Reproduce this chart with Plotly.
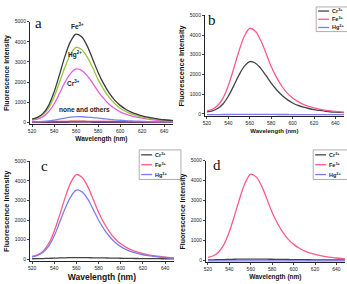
import plotly.graph_objects as go

W, H = 347, 284

wavelength = [520, 525, 530, 535, 540, 545, 550, 555, 560, 565, 570, 575, 580, 585,
              590, 595, 600, 605, 610, 615, 620, 625, 630, 635, 640, 645, 650]

# panel a
a_fe = [160, 240, 440, 830, 1500, 2380, 3300, 4020, 4380, 4250, 3800, 3150, 2480, 1920,
        1460, 1100, 840, 650, 505, 400, 315, 250, 200, 160, 125, 100, 80]
a_hg = [150, 220, 380, 700, 1260, 2000, 2760, 3380, 3720, 3620, 3250, 2720, 2120, 1640,
        1240, 930, 700, 540, 420, 330, 260, 205, 165, 130, 100, 80, 65]
a_cr = [110, 160, 280, 520, 910, 1440, 2000, 2430, 2650, 2580, 2320, 1950, 1540, 1190,
        900, 680, 520, 400, 315, 250, 200, 160, 125, 100, 80, 65, 50]
a_none = [20, 30, 45, 70, 110, 160, 210, 255, 280, 275, 260, 235, 205, 175,
          145, 120, 100, 80, 65, 55, 45, 35, 30, 25, 20, 15, 12]
a_red = [25, 28, 30, 34, 38, 42, 46, 49, 50, 50, 48, 46, 44, 42,
         40, 38, 36, 34, 32, 30, 28, 27, 26, 25, 24, 23, 22]
a_dark = [-10, -10, -8, -6, -4, -2, 0, 2, 3, 3, 2, 1, 0, -1,
          -2, -3, -4, -5, -6, -7, -8, -8, -9, -9, -10, -10, -10]

# panel b
b_cr = [100, 150, 270, 500, 900, 1420, 1980, 2420, 2650, 2580, 2320, 1950, 1560, 1220,
        940, 720, 550, 430, 340, 270, 210, 170, 135, 105, 85, 70, 55]
b_fe = [150, 230, 420, 800, 1450, 2300, 3200, 3950, 4340, 4200, 3750, 3100, 2400, 1850,
        1400, 1050, 800, 620, 480, 380, 300, 240, 190, 150, 120, 95, 75]
b_hg = [-40, -40, -38, -36, -34, -30, -28, -26, -25, -26, -28, -30, -32, -34,
        -35, -36, -37, -38, -38, -39, -40, -40, -40, -40, -40, -40, -40]

# panel c
c_cr = [30, 35, 40, 50, 60, 70, 80, 85, 90, 88, 85, 80, 75, 70,
        65, 60, 55, 50, 45, 42, 40, 38, 35, 33, 30, 28, 26]
c_fe = [150, 230, 420, 800, 1440, 2280, 3170, 3920, 4320, 4180, 3730, 3080, 2390, 1840,
        1390, 1040, 790, 610, 470, 370, 290, 230, 185, 145, 115, 90, 70]
c_hg = [130, 200, 360, 670, 1200, 1900, 2620, 3200, 3530, 3440, 3090, 2560, 1990, 1530,
        1150, 860, 650, 500, 385, 300, 235, 185, 150, 120, 95, 75, 60]

# panel d
d_cr = [20, 25, 30, 38, 45, 52, 58, 62, 64, 63, 60, 56, 52, 48,
        44, 40, 36, 33, 30, 27, 25, 23, 21, 20, 19, 18, 17]
d_fe = [150, 230, 420, 800, 1440, 2280, 3170, 3920, 4330, 4190, 3740, 3090, 2400, 1850,
        1400, 1050, 800, 615, 475, 375, 295, 235, 185, 145, 115, 90, 70]
d_hg = [-30, -30, -29, -28, -27, -26, -25, -24, -24, -24, -25, -26, -27, -28,
        -28, -29, -29, -30, -30, -30, -30, -30, -30, -30, -30, -30, -30]

ion_names = ["Cr<sup>3+</sup>", "Fe<sup>3+</sup>", "Hg<sup>2+</sup>"]
ion_colors = ["#444444", "#ff5a86", "#7c7cf0"]

x_ticks = [520, 540, 560, 580, 600, 620, 640]
y_ticks = [0, 1000, 2000, 3000, 4000, 5000]
x_title = "Wavelength (nm)"
y_title = "Fluorescence Intensity"

FONT = "Liberation Sans"
SERIF = "Liberation Serif"

# panel layout in pixels: (left, right, top, bottom, ymin)
panels = {
    "a": dict(px=(28, 172, 19, 123), ymin=-100, xt=6.5, yt=7),
    "b": dict(px=(204, 344, 12.5, 115), ymin=-130, xt=6, yt=7.5),
    "c": dict(px=(28, 173, 160.5, 262), ymin=-100, xt=8.5, yt=7.5),
    "d": dict(px=(205, 345, 160, 263), ymin=-100, xt=6.5, yt=7),
}

fig = go.Figure()

series = {
    "a": [(a_dark, "#6a3a8a"), (a_red, "#e03a3a"), (a_none, "#7a86f0"),
          (a_cr, "#e25ee2"), (a_hg, "#9cc43c"), (a_fe, "#3a3a3a")],
    "b": [(b_cr, ion_colors[0]), (b_fe, ion_colors[1]), (b_hg, ion_colors[2])],
    "c": [(c_cr, ion_colors[0]), (c_fe, ion_colors[1]), (c_hg, ion_colors[2])],
    "d": [(d_cr, ion_colors[0]), (d_fe, ion_colors[1]), (d_hg, ion_colors[2])],
}

for i, key in enumerate(["a", "b", "c", "d"]):
    n = "" if i == 0 else str(i + 1)
    p = panels[key]
    l, r, t, b = p["px"]
    for vals, col in series[key]:
        fig.add_trace(go.Scatter(
            x=wavelength, y=vals, mode="lines",
            line=dict(color=col, width=1.3, shape="spline"),
            xaxis="x" + n, yaxis="y" + n, showlegend=False, hoverinfo="skip"))
    axfont = dict(family=FONT, size=5, color="#222")
    fig.layout["xaxis" + n] = dict(
        domain=[l / W, r / W], anchor="y" + n, range=[518, 648],
        tickvals=x_ticks, ticks="outside", ticklen=2, tickwidth=0.8,
        tickfont=axfont, showgrid=False, zeroline=False,
        showline=True, linecolor="#222", linewidth=0.8,
        title=dict(text="<b>" + x_title + "</b>", standoff=3,
                   font=dict(family=FONT, size=p["xt"], color="#111")))
    fig.layout["yaxis" + n] = dict(
        domain=[1 - b / H, 1 - t / H], anchor="x" + n, range=[p["ymin"], 5000],
        tickvals=y_ticks, ticks="outside", ticklen=2, tickwidth=0.8,
        tickfont=axfont, showgrid=False, zeroline=False,
        showline=True, linecolor="#222", linewidth=0.8,
        title=dict(text="<b>" + y_title + "</b>", standoff=4,
                   font=dict(family=FONT, size=p["yt"], color="#111")))

annotations = []
# panel letters
letters = [("a", "x", "y", 520.5, 4950), ("b", "x2", "y2", 519.5, 4780),
           ("c", "x3", "y3", 526.5, 4780), ("d", "x4", "y4", 522.5, 4800)]
for txt, xr, yr, xv, yv in letters:
    annotations.append(dict(text=txt, xref=xr, yref=yr, x=xv, y=yv, showarrow=False,
                            xanchor="left", yanchor="middle",
                            font=dict(family=SERIF, size=15, color="#111")))

# panel a labels
a_labels = [("Fe<sup>3+</sup>", 561, 4780), ("Hg<sup>2+</sup>", 559, 3380),
            ("Cr<sup>3+</sup>", 558, 1950), ("none and others", 568, 650)]
for txt, xv, yv in a_labels:
    annotations.append(dict(text="<b>" + txt + "</b>", xref="x", yref="y", x=xv, y=yv,
                            showarrow=False,
                            font=dict(family=FONT, size=6.5, color="#222")))

# legends for b, c, d (box + line samples + text)
shapes = []
legend_boxes = [(316, 352, 4, 29), (138, 180, 149, 179), (313, 350, 149, 179)]
for (bl, br, bt, bb) in legend_boxes:
    shapes.append(dict(type="rect", xref="paper", yref="paper",
                       x0=bl / W, x1=br / W, y0=1 - bb / H, y1=1 - bt / H,
                       line=dict(color="#999", width=0.8), fillcolor="white"))
    step = (bb - bt) / 3
    for k in range(3):
        yy = bt + step * (k + 0.5)
        shapes.append(dict(type="line", xref="paper", yref="paper",
                           x0=(bl + 2) / W, x1=(bl + 13) / W,
                           y0=1 - yy / H, y1=1 - yy / H,
                           line=dict(color=ion_colors[k], width=1.3)))
        annotations.append(dict(text="<b>" + ion_names[k] + "</b>", xref="paper",
                                yref="paper", x=(bl + 14) / W, y=1 - yy / H,
                                xanchor="left", yanchor="middle", showarrow=False,
                                font=dict(family=FONT, size=5.5, color="#222")))

fig.update_layout(
    width=W, height=H, margin=dict(l=0, r=0, t=0, b=0),
    paper_bgcolor="white", plot_bgcolor="white",
    annotations=annotations, shapes=shapes, showlegend=False,
    font=dict(family=FONT),
)

fig.write_html("out.html", config={"displayModeBar": False},
               post_script="document.body.style.margin='0';"
                           "document.body.style.overflow='hidden';")
